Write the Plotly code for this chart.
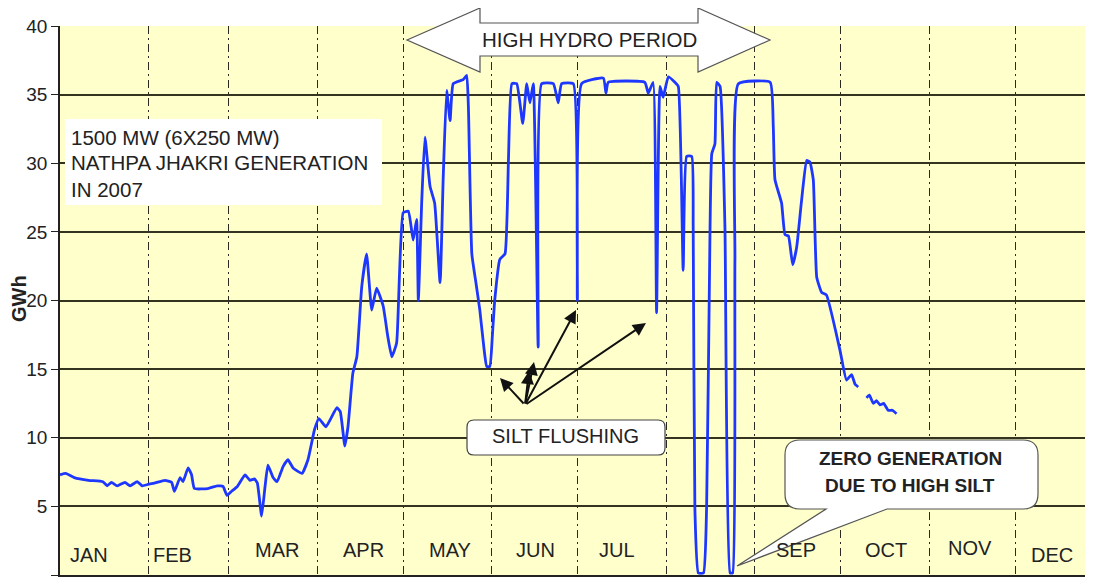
import plotly.graph_objects as go
from datetime import datetime, timedelta

# ---------------- data ----------------
YEAR_START = datetime(2007, 1, 1)

# day offset from 1 Jan 2007 and daily generation in GWh (None = gap in record)
day = [0, 2, 5, 10, 15, 16.5, 18, 20, 22.7, 24.5, 27, 28.7, 30.8, 33, 36.7, 39, 40, 42, 43, 44.8,
       46, 47, 51.7, 55, 57, 58.4, 60, 62, 64.7, 66.4, 68, 69, 70.5, 71.7, 72.7, 74.5, 75.9, 78,
       79.7, 81.5, 84.6, 86.7, 89, 90.5, 93, 96.8, 98, 99.6, 100.7, 102.4, 103.8, 105.5, 107.2,
       109, 110.7, 113, 114.6, 116, 117.7, 120, 121.8, 123.5, 124.7, 125.3, 126.5, 127.6, 129.4, 131,
       132.9, 134, 135.2, 136.4, 137.5, 141, 142.2, 142.8, 144, 145.5, 146.8, 148.2, 149.2, 150.3,
       151.2, 152, 153.8, 155.6, 156.8, 158, 159.7, 161.8, 163.2, 164.3, 165.5, 167.2, 168.4,
       172.5, 174.2, 175.4, 179.5, 180.9, 182.4, 190, 190.9, 191.7, 204.5, 205.7, 207.4, 208.6,
       209.8, 210.9, 212.7, 215, 216.2, 217.9, 219.1, 220.9, 221.4, 222, 223.2, 225, 226.1, 227.3,
       227.9, 229, 229.6, 230.8, 232.5, 234.3, 235.2, 236, 237.2, 248.3, 249.4, 250, 252.3, 253.5,
       254.7, 256.2, 257.6, 259.3, 261.1, 262.2, 263.4, 264.6, 266.3, 268, 272.7, 275, 276.8, 278,
       279.1, None, 282, 283, 284.4, 285.5, 286.7, 288, 289.6, 291, 292.5]
gwh = [7.3, 7.4, 7.1, 6.9, 6.8, 6.5, 6.75, 6.5, 6.75, 6.5, 6.8, 6.5, 6.6, 6.7, 6.9, 6.75, 6.1, 7.1, 6.8, 7.8,
       7.3, 6.3, 6.3, 6.5, 6.45, 5.8, 6.1, 6.45, 7.3, 6.9, 7.0, 6.7, 4.3, 6.45, 8.0, 7.1, 6.8, 7.9,
       8.4, 7.8, 7.4, 8.4, 10.6, 11.4, 10.8, 12.2, 11.9, 9.4, 10.8, 14.7, 15.9, 21.0, 23.4,
       19.3, 20.9, 19.6, 17.4, 15.9, 16.9, 26.4, 26.5, 24.4, 25.9, 20.0, 27.3, 31.9, 28.3, 27.1,
       21.3, 29.0, 35.3, 33.1, 35.8, 36.1, 36.4, 34.1, 23.4, 21.2, 19.3, 16.6, 15.2, 15.2,
       17.5, 20.0, 23.0, 23.4, 30.2, 35.8, 35.8, 32.9, 35.8, 34.4, 35.8, 16.6, 35.8,
       35.8, 34.4, 35.8, 35.8, 20.0, 35.8, 36.2, 35.1, 35.9, 35.9, 35.1, 35.9, 19.1,
       35.6, 34.8, 36.3, 35.9, 35.6, 22.2, 30.5, 30.5, 25.4, 4.8, 0.15, 0.15, 5.0, 25.4,
       30.7, 31.4, 35.9, 35.6, 25.4, 0.15, 0.15, 23.0, 35.8, 35.9, 32.7, 28.8, 27.1, 24.8,
       24.7, 22.6, 23.9, 27.3, 30.2, 30.1, 28.8, 21.7, 20.6, 20.4, 16.4, 14.2, 14.6, 13.9,
       13.7, None, 12.9, 13.1, 12.5, 12.7, 12.4, 12.5, 12.0, 12.0, 11.75]

month_labels = ["JAN", "FEB", "MAR", "APR", "MAY", "JUN", "JUL", "SEP", "OCT", "NOV", "DEC"]
month_label_day = [10.1, 39.5, 75.9, 106.1, 136.4, 166.1, 194.8, 257.3, 288.8, 318.2, 346.9]
month_label_y = [1.45, 1.45, 1.8, 1.8, 1.8, 1.8, 1.8, 1.8, 1.8, 2.0, 1.45]

y_ticks = [0, 5, 10, 15, 20, 25, 30, 35, 40]

# ---------------- layout geometry ----------------
PAGE_OFF = 8                      # default body margin of the html page
W, H = 1093 - PAGE_OFF, 577 - PAGE_OFF
ML, MR, MT, MB = 52, 0, 18, 2
PW, PH = W - ML - MR, H - MT - MB
X_END_DAYS = 361.2
FONT = "Liberation Sans, Arial, sans-serif"
INK = "#222222"


def to_date(d):
    return None if d is None else YEAR_START + timedelta(days=d)


def px(xp):  # page pixel -> paper x
    return (xp - PAGE_OFF - ML) / PW


def py(yp):  # page pixel -> paper y
    return (H - MB - (yp - PAGE_OFF)) / PH


def rounded_path(x0, y0, x1, y1, r, tail=None):
    """Rounded box (page pixel coords) converted to a paper path; optional tail on the bottom edge."""
    P = lambda a, b: f"{px(a):.5f},{py(b):.5f}"
    s = f"M{P(x0 + r, y0)} L{P(x1 - r, y0)} Q{P(x1, y0)} {P(x1, y0 + r)} "
    s += f"L{P(x1, y1 - r)} Q{P(x1, y1)} {P(x1 - r, y1)} "
    if tail:
        (ta, tb, tx, ty) = tail
        s += f"L{P(tb, y1)} L{P(tx, ty)} L{P(ta, y1)} "
    s += f"L{P(x0 + r, y1)} Q{P(x0, y1)} {P(x0, y1 - r)} L{P(x0, y0 + r)} Q{P(x0, y0)} {P(x0 + r, y0)} Z"
    return s


def poly_path(points):
    return "M" + " L".join(f"{px(a):.5f},{py(b):.5f}" for a, b in points) + " Z"


fig = go.Figure()
fig.add_trace(go.Scatter(
    x=[to_date(d) for d in day], y=gwh, mode="lines",
    line=dict(color="rgb(30,55,255)", width=2.8, shape="spline", smoothing=0.4), connectgaps=False,
    showlegend=False, hoverinfo="x+y"))

shapes = []
annotations = []

# info box top-left
shapes.append(dict(type="rect", xref="paper", yref="paper", x0=px(65), x1=px(382), y0=py(205), y1=py(119),
                   fillcolor="white", line=dict(width=0), layer="above"))
for txt, yc in zip(["1500 MW (6X250 MW)", "NATHPA JHAKRI GENERATION", "IN 2007"], [137.5, 162.5, 189.5]):
    annotations.append(dict(xref="paper", yref="paper", x=px(69), y=py(yc), text=txt, showarrow=False,
                            xanchor="left", yanchor="middle", font=dict(family=FONT, size=20.5, color=INK)))

# HIGH HYDRO PERIOD double arrow
arrow_pts = [(407, 40), (480, 8), (480, 23), (698, 23), (698, 8), (770, 40),
             (698, 72), (698, 56), (480, 56), (480, 72)]
shapes.append(dict(type="path", xref="paper", yref="paper", path=poly_path(arrow_pts),
                   fillcolor="white", line=dict(color="#555555", width=1.2), layer="above"))
annotations.append(dict(xref="paper", yref="paper", x=px(589), y=py(40), text="HIGH HYDRO PERIOD",
                        showarrow=False, xanchor="center", yanchor="middle",
                        font=dict(family=FONT, size=20.5, color=INK)))

# SILT FLUSHING box + arrows
shapes.append(dict(type="path", xref="paper", yref="paper", path=rounded_path(467, 420, 665, 455, 7),
                   fillcolor="white", line=dict(color="#444444", width=1.2), layer="above"))
annotations.append(dict(xref="paper", yref="paper", x=px(565), y=py(436), text="SILT FLUSHING",
                        showarrow=False, xanchor="center", yanchor="middle",
                        font=dict(family=FONT, size=20, color=INK)))
tail_x, tail_y = 525, 405
for hx, hy in [(500, 378), (529, 371), (534, 362), (576, 310), (646, 323)]:
    annotations.append(dict(xref="paper", yref="paper", x=px(hx), y=py(hy), text="",
                            showarrow=True, arrowhead=2, arrowsize=1.3, arrowwidth=2,
                            arrowcolor="#111111", axref="pixel", ayref="pixel",
                            ax=tail_x - hx, ay=tail_y - hy, standoff=0, startstandoff=0))

# ZERO GENERATION callout
shapes.append(dict(type="path", xref="paper", yref="paper",
                   path=rounded_path(785, 440, 1038, 509, 15, tail=(826, 887, 737, 566)),
                   fillcolor="white", line=dict(color="#555555", width=1.2), layer="above"))
for txt, yc in zip(["ZERO GENERATION", "DUE TO HIGH SILT"], [458, 485]):
    annotations.append(dict(xref="paper", yref="paper", x=px(910), y=py(yc), text=f"<b>{txt}</b>",
                            showarrow=False, xanchor="center", yanchor="middle",
                            font=dict(family=FONT, size=19, color=INK)))

# month labels inside the plot
for lab, d, yv in zip(month_labels, month_label_day, month_label_y):
    annotations.append(dict(x=to_date(d), y=yv, xref="x", yref="y", text=lab, showarrow=False,
                            xanchor="center", yanchor="middle",
                            font=dict(family=FONT, size=20, color=INK)))

# y axis title (overlaps tick label as in the original)
annotations.append(dict(xref="paper", yref="paper", x=px(19), y=py(298), text="<b>GWh</b>",
                        textangle=-90, showarrow=False, xanchor="center", yanchor="middle",
                        font=dict(family=FONT, size=20, color=INK)))

fig.update_layout(
    width=W, height=H, margin=dict(l=ML, r=MR, t=MT, b=MB, autoexpand=False),
    paper_bgcolor="white", plot_bgcolor="#FFFFCC",
    shapes=shapes, annotations=annotations,
    xaxis=dict(type="date", range=[YEAR_START, to_date(X_END_DAYS)],
               tick0="2007-01-01", dtick="M1", showticklabels=False, ticks="",
               showgrid=True, gridcolor="#2a2a20", gridwidth=1.3, griddash="8px,4px,2px,4px",
               showline=True, linecolor="#222222", linewidth=2, zeroline=False),
    yaxis=dict(range=[0, 40], tickvals=y_ticks, ticks="outside", ticklen=7, tickcolor="#222222",
               tickwidth=1.3, showgrid=True, gridcolor="#33331f", gridwidth=1.5,
               showline=True, linecolor="#222222", linewidth=1.5, zeroline=False,
               tickfont=dict(family=FONT, size=19, color=INK)),
    font=dict(family=FONT, color=INK),
)

fig.write_html("out.html")
